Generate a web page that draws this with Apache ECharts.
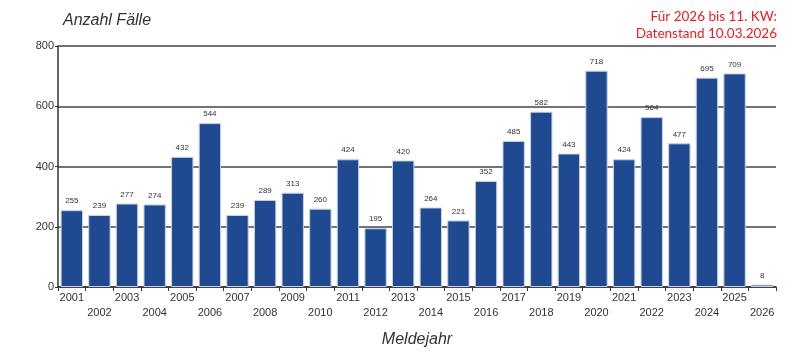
<!DOCTYPE html>
<html>
<head>
<meta charset="utf-8">
<script src="https://cdn.jsdelivr.net/npm/echarts@6/dist/echarts.min.js"></script>
<style>html,body{margin:0;padding:0;background:#fff}#c{width:800px;height:355px}</style>
</head>
<body>
<div id="c"></div>
<script>
const years = ['2001','2002','2003','2004','2005','2006','2007','2008','2009','2010','2011','2012','2013','2014','2015','2016','2017','2018','2019','2020','2021','2022','2023','2024','2025','2026'];
const cases = [255,239,277,274,432,544,239,289,313,260,424,195,420,264,221,352,485,582,443,718,424,564,477,695,709,8];
const yTicks = {min:0, max:800, interval:200};

const noteStyle = {fontFamily:'Lato',fontWeight:'normal',fontSize:13.5,color:'#ee1c1c'};
const chart = echarts.init(document.getElementById('c'));
chart.setOption({
  animation:false,
  grid:{left:58,right:24,top:46,bottom:68},
  title:[
    {text:'Anzahl Fälle',left:58,top:8,textStyle:{fontFamily:'Liberation Sans',fontStyle:'italic',fontWeight:'normal',fontSize:16,color:'#333'}},
    {text:'Für 2026 bis 11. KW:',right:23,top:10,padding:0,textStyle:noteStyle},
    {text:'Datenstand 10.03.2026',right:23,top:27,padding:0,textStyle:noteStyle}
  ],
  xAxis:{
    type:'category',data:years,
    name:'Meldejahr',nameLocation:'middle',nameGap:45,
    nameTextStyle:{fontFamily:'Liberation Sans',fontStyle:'italic',fontSize:16,color:'#333'},
    axisLine:{lineStyle:{color:'#333',width:1.5}},
    axisTick:{show:true,alignWithLabel:false,length:4,lineStyle:{color:'#333'}},
    axisLabel:{interval:0,margin:3,fontFamily:'Liberation Sans',fontSize:11,color:'#333',lineHeight:15,
      formatter:(v,i)=> i%2===0 ? v : '\n'+v}
  },
  yAxis:{
    type:'value',min:yTicks.min,max:yTicks.max,interval:yTicks.interval,
    axisLine:{show:true,lineStyle:{color:'#333',width:1.5}},
    axisTick:{show:true,length:3,lineStyle:{color:'#333'}},
    axisLabel:{margin:4,fontFamily:'Liberation Sans',fontSize:11,color:'#333'},
    splitLine:{lineStyle:{color:'#444',width:1.5}}
  },
  series:[{
    type:'bar',data:cases,barCategoryGap:'19%',
    itemStyle:{color:'#1f4a91',borderColor:'#c6d1e6',borderWidth:1},
    label:{show:true,position:'top',distance:5,fontFamily:'Liberation Sans',fontSize:8,color:'#333'}
  }]
});
</script>
</body>
</html>
